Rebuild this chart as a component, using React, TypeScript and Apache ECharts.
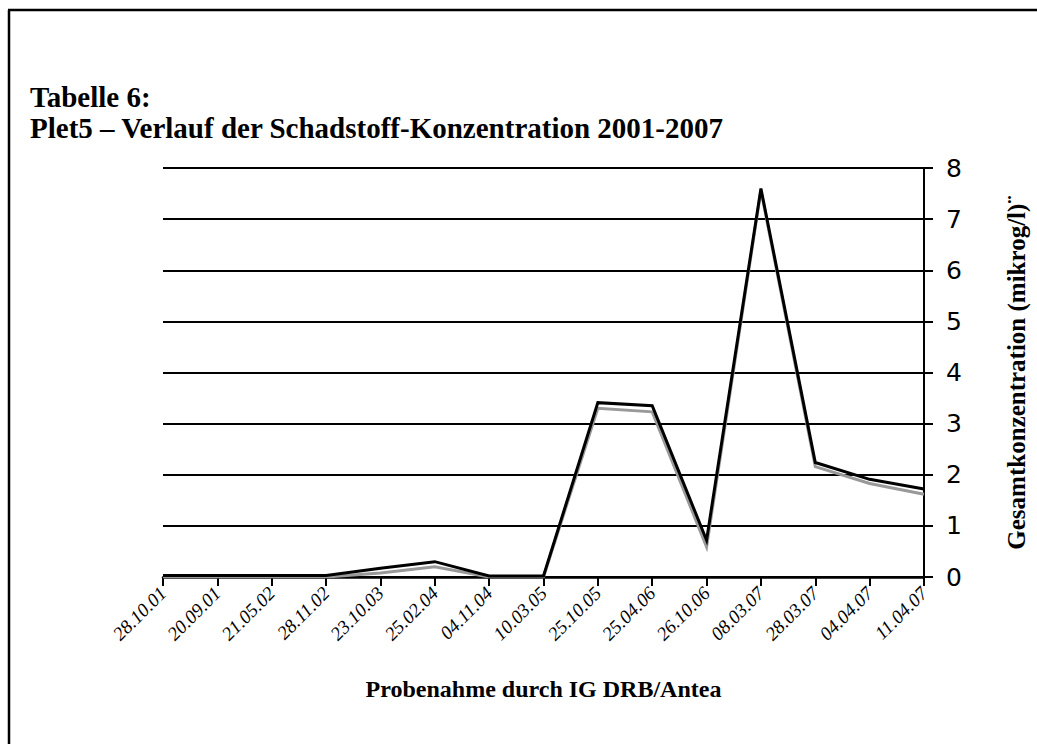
import React, { useEffect, useRef } from "react";
import * as echarts from "echarts";

const categories = [
  "28.10.01", "20.09.01", "21.05.02", "28.11.02", "23.10.03", "25.02.04", "04.11.04",
  "10.03.05", "25.10.05", "25.04.06", "26.10.06", "08.03.07", "28.03.07", "04.04.07", "11.04.07",
];
const grayValues = [0, 0, 0, 0, 0.08, 0.2, 0, 0, 3.3, 3.23, 0.59, 7.56, 2.16, 1.83, 1.62];
const blackValues = [0.03, 0.03, 0.03, 0.03, 0.17, 0.3, 0.02, 0.02, 3.41, 3.35, 0.72, 7.6, 2.24, 1.91, 1.72];
const titleLine1 = "Tabelle 6:";
const titleLine2 = "Plet5 – Verlauf der Schadstoff-Konzentration 2001-2007";
const xName = "Probenahme durch IG DRB/Antea";
const yName = "Gesamtkonzentration (mikrog/l)¨";

export default function App() {
  const ref = useRef<HTMLDivElement>(null);
  useEffect(() => {
    document.body.style.margin = "0";
    const chart = echarts.init(ref.current!, null, { renderer: "svg", width: 1037, height: 744 });
    const serif = "'Liberation Serif', 'Times New Roman', serif";
    chart.setOption({
      animation: false,
      backgroundColor: "#fff",
      graphic: [
        { type: "line", shape: { x1: 9, y1: 10, x2: 9, y2: 744 }, style: { stroke: "#000", lineWidth: 2.5 } },
        { type: "line", shape: { x1: 8, y1: 10, x2: 1037, y2: 10 }, style: { stroke: "#000", lineWidth: 2.5 } },
        {
          type: "text", left: 30, top: 82,
          style: { text: titleLine1, font: `bold 29px ${serif}`, fill: "#000" },
        },
        {
          type: "text", left: 30, top: 113,
          style: { text: titleLine2, font: `bold 29px ${serif}`, fill: "#000" },
        },
      ],
      grid: { left: 163, right: 96, top: 168, bottom: 167 },
      xAxis: {
        type: "category",
        data: categories,
        boundaryGap: false,
        name: xName,
        nameLocation: "middle",
        nameGap: 100,
        nameTextStyle: { fontFamily: serif, fontWeight: "bold", fontSize: 24, color: "#000" },
        axisLine: { show: true, lineStyle: { color: "#000", width: 2.5 } },
        axisTick: { show: true, interval: 0, length: 9, lineStyle: { color: "#000", width: 2 } },
        axisLabel: {
          interval: 0, rotate: 45, margin: 13,
          fontFamily: serif, fontStyle: "italic", fontSize: 19, color: "#000",
        },
        splitLine: { show: false },
      },
      yAxis: {
        type: "value",
        position: "right",
        min: 0, max: 8, interval: 1,
        name: yName,
        nameLocation: "middle",
        nameRotate: 90,
        nameGap: 80,
        nameTextStyle: { fontFamily: serif, fontWeight: "bold", fontSize: 25, color: "#000" },
        axisLine: { show: true, lineStyle: { color: "#000", width: 2 } },
        axisTick: { show: true, length: 9, lineStyle: { color: "#000", width: 2 } },
        axisLabel: { fontFamily: "'DejaVu Sans', Verdana, sans-serif", fontSize: 25, color: "#000", margin: 22 },
        splitLine: { show: true, lineStyle: { color: "#000", width: 2 } },
      },
      series: [
        {
          type: "line", data: grayValues, symbol: "none",
          lineStyle: { color: "#999", width: 3, join: "miter" },
          z: 2,
        },
        {
          type: "line", data: blackValues, symbol: "none",
          lineStyle: { color: "#000", width: 3, join: "miter" },
          z: 3,
        },
      ],
    });
    return () => chart.dispose();
  }, []);
  return (
    <div
      ref={ref}
      style={{ position: "fixed", left: 0, top: 0, width: 1037, height: 744, background: "#fff" }}
    />
  );
}
